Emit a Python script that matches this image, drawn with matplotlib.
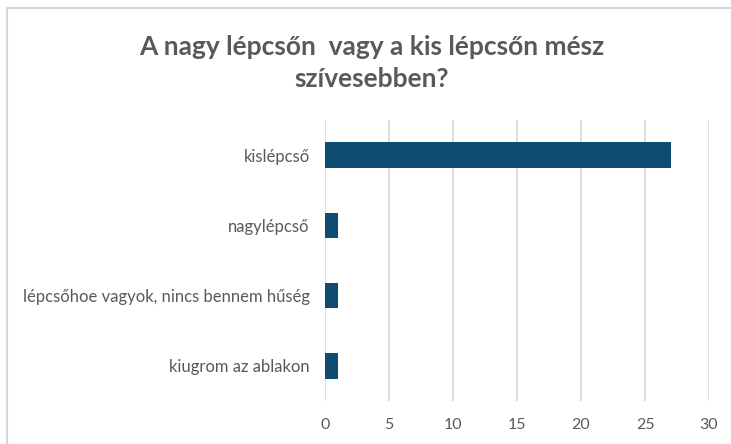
import matplotlib
matplotlib.use("Agg")
import matplotlib.pyplot as plt
from matplotlib.lines import Line2D

categories = ["kislépcső", "nagylépcső", "lépcsőhoe vagyok, nincs bennem hűség", "kiugrom az ablakon"]
values = [27, 1, 1, 1]
xticks = [0, 5, 10, 15, 20, 25, 30]
title = "A nagy lépcsőn  vagy a kis lépcsőn mész\nszívesebben?"

plt.rcParams['font.family'] = ['Lato', 'DejaVu Sans']

fig = plt.figure(figsize=(7.31, 4.44), dpi=100)
ax = fig.add_axes([0.4446, 0.0968, 0.970 - 0.4446, 0.7297 - 0.0968])

ypos = list(range(len(categories)))
ax.barh(ypos, values, height=0.36, color="#0f4c72", zorder=3)
ax.set_ylim(len(categories) - 0.5, -0.5)
ax.set_yticks(ypos)
ax.set_yticklabels(categories, fontsize=12, color="#595959")
ax.set_xlim(0, 30)
ax.set_xticks(xticks)
ax.set_xticklabels([str(t) for t in xticks], fontsize=11.5, color="#595959")
ax.grid(axis="x", color="#d9d9d9", linewidth=1.2, zorder=0)
for s in ax.spines.values():
    s.set_visible(False)
ax.tick_params(axis="y", length=0, pad=11)
ax.tick_params(axis="x", length=0, pad=12)

fig.text(0.508, 0.858, title, ha="center", va="center", fontsize=19,
         fontweight="bold", color="#595959", linespacing=1.4)

# outer frame (left and top edges visible)
fig.add_artist(Line2D([0.0096, 0.0096], [0, 0.982], transform=fig.transFigure,
                      color="#d9d9d9", linewidth=1.5))
fig.add_artist(Line2D([0.0096, 1.0], [0.982, 0.982], transform=fig.transFigure,
                      color="#d9d9d9", linewidth=1.5))

fig.savefig("out.png", dpi=100, facecolor="white")
